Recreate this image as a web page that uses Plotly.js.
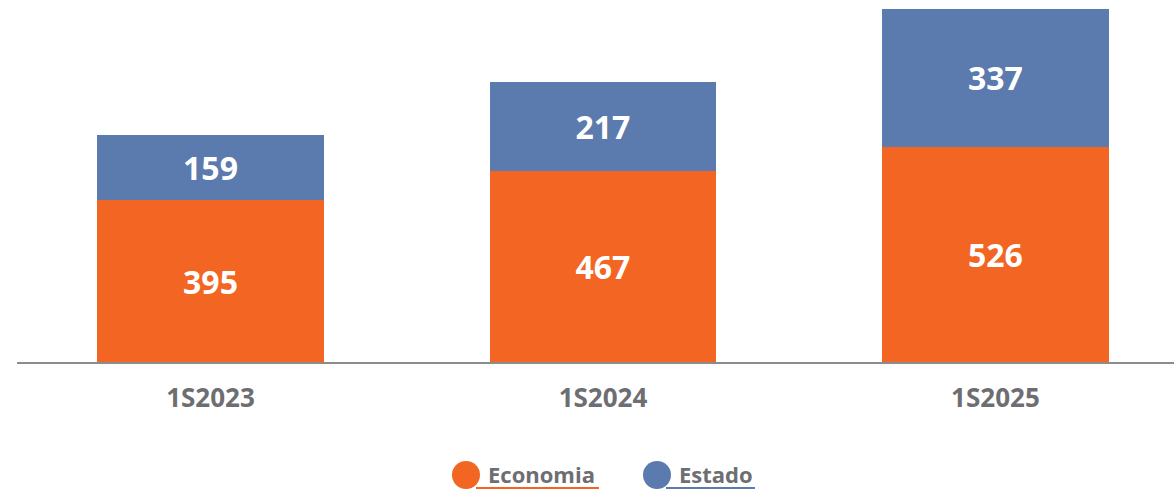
<!DOCTYPE html>
<html>
<head>
<meta charset="utf-8">
<script src="https://cdn.plot.ly/plotly-3.0.1.min.js"></script>
<style>
  html, body { margin: 0; padding: 0; background: #fff; }
  #chart { width: 1174px; height: 494px; }
</style>
</head>
<body>
<div id="chart"></div>
<script>
// data
const periods = ['1S2023', '1S2024', '1S2025'];
const economia = [395, 467, 526];
const estado = [159, 217, 337];

const orange = '#F26522';
const blue = '#5B7AAD';
const grey = '#6D6E71';
const font = '"Open Sans", "Liberation Sans", sans-serif';

// plot area in page pixels (margins below)
const W = 1174, H = 494;
const mL = 17, mR = 0, mT = 0, mB = 132;
const px2x = px => (px - mL) / (W - mL - mR);
const py2y = py => (H - mB - py) / (H - mT - mB);

function barTrace(name, values, color) {
    return {
        type: 'bar',
        name: name,
        x: [0, 1, 2],
        y: values,
        text: values.map(String),
        texttemplate: '%{text}',
        textposition: 'inside',
        insidetextanchor: 'middle',
        textangle: 0,
        textfont: { family: font, size: 32, color: '#ffffff', weight: 700 },
        constraintext: 'none',
        width: 0.578,
        marker: { color: color, line: { width: 0 } },
        hoverinfo: 'skip',
        showlegend: false
    };
}

// hand-drawn legend: dot + label + coloured underline
const legendItems = [
    { label: 'Economia', color: orange, dot: 466, textX: 486, lineFrom: 476, lineTo: 599 },
    { label: 'Estado', color: blue, dot: 657, textX: 677, lineFrom: 666, lineTo: 755 }
];
const shapes = [];
const annotations = [];
legendItems.forEach(it => {
    shapes.push({
        type: 'line', xref: 'paper', yref: 'paper',
        x0: px2x(it.lineFrom), x1: px2x(it.lineTo),
        y0: py2y(488), y1: py2y(488),
        line: { color: it.color, width: 2 }
    });
    shapes.push({
        type: 'circle', xref: 'paper', yref: 'paper',
        xsizemode: 'pixel', ysizemode: 'pixel',
        xanchor: px2x(it.dot), yanchor: py2y(475),
        x0: -14, x1: 14, y0: -14, y1: 14,
        fillcolor: it.color, line: { width: 0 }
    });
    annotations.push({
        xref: 'paper', yref: 'paper',
        x: px2x(it.textX), y: py2y(474),
        xanchor: 'left', yanchor: 'middle',
        text: '<b>' + it.label + '</b>',
        showarrow: false,
        font: { family: font, size: 22, color: grey }
    });
});

const layout = {
    width: W,
    height: H,
    margin: { l: mL, r: mR, t: mT, b: mB, pad: 0 },
    paper_bgcolor: '#ffffff',
    plot_bgcolor: '#ffffff',
    barmode: 'stack',
    showlegend: false,
    xaxis: {
        range: [-0.493, 2.455],
        tickvals: [0, 1, 2],
        ticktext: periods,
        tickfont: { family: font, size: 26, color: grey, weight: 700 },
        ticks: '',
        ticklabelstandoff: 12,
        showgrid: false,
        zeroline: false,
        showline: true,
        linecolor: '#8C8C8C',
        linewidth: 2,
        fixedrange: true
    },
    yaxis: {
        range: [0, 885],
        visible: false,
        showgrid: false,
        zeroline: false,
        fixedrange: true
    },
    shapes: shapes,
    annotations: annotations
};

Plotly.newPlot('chart', [
    barTrace('Economia', economia, orange),
    barTrace('Estado', estado, blue)
], layout, { displayModeBar: false, staticPlot: true });
</script>
</body>
</html>
